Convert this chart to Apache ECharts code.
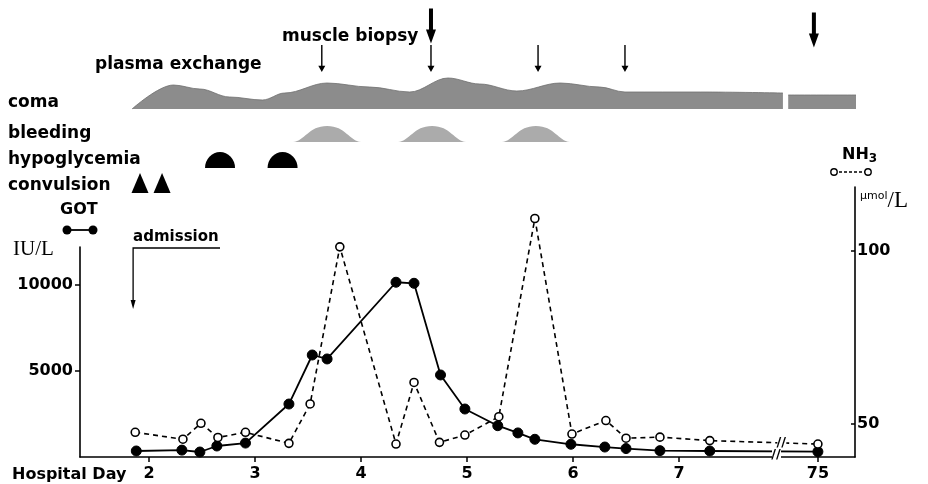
<!DOCTYPE html>
<html>
<head>
<meta charset="utf-8">
<script src="https://cdn.jsdelivr.net/npm/echarts@6/dist/echarts.min.js"></script>
<style>
html,body{margin:0;padding:0;background:#fff;}
#chart{width:928px;height:484px;}
</style>
</head>
<body>
<div id="chart"></div>
<script>
// ---------------- DATA ----------------
const dayTicks = [2, 3, 4, 5, 6, 7, 75];

const gotDays   = [1.88, 2.31, 2.48, 2.64, 2.91, 3.32, 3.54, 3.68, 4.33, 4.50, 4.75, 4.98, 5.29, 5.48, 5.64, 5.98, 6.30, 6.50, 6.82, 7.29, 75];
const gotValues = [350, 400, 290, 640, 810, 3080, 5930, 5700, 10160, 10100, 4770, 2790, 1820, 1400, 1030, 740, 580, 490, 370, 350, 310];

const nh3Days   = [1.87, 2.32, 2.49, 2.65, 2.91, 3.32, 3.52, 3.80, 4.33, 4.50, 4.74, 4.98, 5.30, 5.64, 5.99, 6.31, 6.50, 6.82, 7.29, 75];
const nh3Values = [47.6, 45.6, 50.2, 46.1, 47.6, 44.4, 55.8, 101.2, 44.2, 62.0, 44.7, 46.8, 52.1, 109.4, 47.1, 51.0, 45.9, 46.2, 45.2, 44.2];

const gotTickLabels = [5000, 10000];
const nh3TickLabels = [50, 100];

// coma depth profile (axis position, relative depth); null = break
const comaPos   = [1.84, 2.23, 2.48, 2.76, 3.07, 3.28, 3.68, 4.08, 4.46, 4.82, 5.12, 5.47, 5.88, 6.25, 6.49, 7.20, 7.98, 7.99, 8.03, 8.69];
const comaLevel = [0, 24, 20, 12, 9, 16, 26, 22, 17, 31, 25, 18, 26, 22, 17, 17, 16, null, 14, 14];

const bleedingDays      = [3.68, 4.67, 5.65];
const hypoglycemiaDays  = [2.67, 3.26];
const convulsionDays    = [1.915, 2.123];
const plasmaExchangeDays = [3.63, 4.66, 5.67, 6.49];
const muscleBiopsyDays   = [4.66, 75];
const admissionDay = 1.85;

// ---------------- LAYOUT HELPERS ----------------
const X_MIN = 1.349, X_MAX = 8.66, DAY75_POS = 8.31, BREAK_POS = 7.915;
function pos(d) { return d >= 75 ? DAY75_POS : d; }

const SANS = '"DejaVu Sans", sans-serif';
const SERIF = '"Liberation Serif", "DejaVu Serif", serif';

const bellPath  = 'path://M0,16 C7,15 9,0 20,0 C31,0 33,15 40,16 Z';
const domePath  = 'path://M0,16 A15,16 0 0 1 30,16 Z';
const thinArrow = 'path://M4,0 L6,0 L6,23 L10,23 L5,30 L0,23 L4,23 Z';
const bigArrow  = 'path://M3,0 L7,0 L7,21 L10,21 L5,35 L0,21 L3,21 Z';

const gridBase = { left: 80, right: 73 };
const grids = [
  Object.assign({ top: 247, bottom: 27 }, gridBase),   // 0 GOT
  Object.assign({ top: 187, bottom: 27 }, gridBase),   // 1 NH3
  Object.assign({ top: 69, height: 40 }, gridBase),    // 2 coma
  Object.assign({ top: 121, height: 78 }, gridBase),   // 3 event rows
  Object.assign({ top: 9.75, height: 65 }, gridBase)   // 4 arrows
];

const tickPos = dayTicks.map(pos);
const xAxes = grids.map((g, i) => ({
  gridIndex: i, type: 'value', min: X_MIN, max: X_MAX, show: i === 0,
  axisLine: { show: true, onZero: false, lineStyle: { color: '#000', width: 1.6 } },
  axisTick: { show: true, customValues: tickPos, length: 5, lineStyle: { color: '#000', width: 1.5 } },
  axisLabel: {
    customValues: tickPos, margin: 9, color: '#000', fontFamily: SANS, fontWeight: 'bold', fontSize: 16,
    formatter: v => { const k = tickPos.findIndex(t => Math.abs(t - v) < 1e-6); return k >= 0 ? String(dayTicks[k]) : ''; }
  },
  splitLine: { show: false }
}));

const yAxes = [
  { gridIndex: 0, type: 'value', min: 0, max: 12209, position: 'left',
    axisLine: { show: true, lineStyle: { color: '#000', width: 1.6 } },
    axisTick: { show: true, customValues: gotTickLabels, length: 5, lineStyle: { color: '#000', width: 1.5 } },
    axisLabel: { customValues: gotTickLabels, margin: 7, color: '#000', fontFamily: SANS, fontWeight: 'bold', fontSize: 16,
      formatter: v => String(Math.round(v)) },
    splitLine: { show: false } },
  { gridIndex: 1, type: 'value', min: 40.46, max: 118.5, position: 'right',
    axisLine: { show: true, lineStyle: { color: '#000', width: 1.6 } },
    axisTick: { show: true, inside: true, customValues: nh3TickLabels, length: 4, lineStyle: { color: '#000', width: 1.5 } },
    axisLabel: { customValues: nh3TickLabels, margin: 2, color: '#000', fontFamily: SANS, fontWeight: 'bold', fontSize: 16,
      formatter: v => String(Math.round(v)) },
    splitLine: { show: false } },
  { gridIndex: 2, type: 'value', min: 0, max: 40, show: false },
  { gridIndex: 3, type: 'category', data: ['bleeding', 'hypoglycemia', 'convulsion'], inverse: true, show: false },
  { gridIndex: 4, type: 'category', data: ['muscle biopsy', 'plasma exchange'], inverse: true, show: false }
];

const series = [
  { name: 'coma', type: 'line', xAxisIndex: 2, yAxisIndex: 2, symbol: 'none', smooth: 0.35, smoothMonotone: 'x',
    connectNulls: false, clip: false,
    data: comaPos.map((p, i) => [p, comaLevel[i] == null ? '-' : comaLevel[i]]),
    lineStyle: { color: '#6e6e6e', width: 0.8 },
    areaStyle: { color: '#8c8c8c', opacity: 1, origin: 'start' } },
  { name: 'bleeding', type: 'scatter', xAxisIndex: 3, yAxisIndex: 3, symbol: bellPath, symbolSize: [68, 16],
    itemStyle: { color: '#ababab', opacity: 1 },
    data: bleedingDays.map(d => [pos(d), 'bleeding']) },
  { name: 'hypoglycemia', type: 'scatter', xAxisIndex: 3, yAxisIndex: 3, symbol: domePath, symbolSize: [30, 16],
    itemStyle: { color: '#000', opacity: 1 },
    data: hypoglycemiaDays.map(d => [pos(d), 'hypoglycemia']) },
  { name: 'convulsion', type: 'scatter', xAxisIndex: 3, yAxisIndex: 3, symbol: 'triangle', symbolSize: [17, 20],
    symbolOffset: [0, -3], itemStyle: { color: '#000', opacity: 1 },
    data: convulsionDays.map(d => [pos(d), 'convulsion']) },
  { name: 'plasma exchange', type: 'scatter', xAxisIndex: 4, yAxisIndex: 4, symbol: thinArrow, symbolSize: [7, 27],
    itemStyle: { color: '#000', opacity: 1 },
    data: plasmaExchangeDays.map(d => [pos(d), 'plasma exchange']) },
  { name: 'muscle biopsy', type: 'scatter', xAxisIndex: 4, yAxisIndex: 4, symbol: bigArrow, symbolSize: [10, 35],
    itemStyle: { color: '#000', opacity: 1 },
    data: muscleBiopsyDays.map((d, i) => ({ value: [pos(d), 'muscle biopsy'], symbolOffset: [i === 1 ? -4 : 0, i === 1 ? 4 : 0] })) },
  { name: 'GOT', type: 'line', xAxisIndex: 0, yAxisIndex: 0, symbol: 'circle', symbolSize: 10,
    lineStyle: { color: '#000', width: 1.8 }, itemStyle: { color: '#000', borderColor: '#000' },
    data: gotDays.map((d, i) => [pos(d), gotValues[i]]), z: 3 },
  { name: 'NH3', type: 'line', xAxisIndex: 1, yAxisIndex: 1, symbol: 'circle', symbolSize: 8, showAllSymbol: true,
    lineStyle: { color: '#000', width: 1.6, type: [5, 4] },
    itemStyle: { color: '#fff', borderColor: '#000', borderWidth: 1.6 },
    data: nh3Days.map((d, i) => [pos(d), nh3Values[i]]), z: 4 }
];

const chart = echarts.init(document.getElementById('chart'), null, { renderer: 'canvas' });
chart.setOption({
  animation: false,
  backgroundColor: '#fff',
  grid: grids,
  xAxis: xAxes,
  yAxis: yAxes,
  series: series
});

// ---------------- ANNOTATIONS ----------------
function txt(x, y, s, size, extra) {
  return Object.assign({ type: 'text', x: x, y: y, z: 50,
    style: Object.assign({ text: s, fill: '#000', font: 'bold ' + size + 'px ' + SANS, textVerticalAlign: 'middle', textAlign: 'left' }, extra || {}) });
}
const g = [];
g.push(txt(8, 103, 'coma', 17));
g.push(txt(8, 134, 'bleeding', 17));
g.push(txt(8, 160, 'hypoglycemia', 17));
g.push(txt(8, 186, 'convulsion', 17));
g.push(txt(95, 65, 'plasma exchange', 17));
g.push(txt(282, 37, 'muscle biopsy', 17));
g.push(txt(60, 210, 'GOT', 16));
g.push(txt(12, 475, 'Hospital Day', 16));
g.push(txt(13, 249, 'IU/L', 21, { font: '21px ' + SERIF }));

// GOT legend key
g.push({ type: 'line', z: 50, shape: { x1: 67, y1: 230, x2: 93, y2: 230 }, style: { stroke: '#000', lineWidth: 1.8 } });
g.push({ type: 'circle', z: 51, shape: { cx: 67, cy: 230, r: 4.5 }, style: { fill: '#000' } });
g.push({ type: 'circle', z: 51, shape: { cx: 93, cy: 230, r: 4.5 }, style: { fill: '#000' } });

// NH3 legend key and unit
g.push({ type: 'text', x: 842, y: 155, z: 50, style: {
  text: '{a|NH}{b|3}', textVerticalAlign: 'middle',
  rich: { a: { fontFamily: SANS, fontWeight: 'bold', fontSize: 16, fill: '#000', color: '#000' },
          b: { fontFamily: SANS, fontWeight: 'bold', fontSize: 12, fill: '#000', color: '#000', padding: [8, 0, 0, 0] } } } });
g.push({ type: 'line', z: 50, shape: { x1: 834, y1: 172, x2: 868, y2: 172 }, style: { stroke: '#000', lineWidth: 1.3, lineDash: [3, 2] } });
g.push({ type: 'circle', z: 51, shape: { cx: 834, cy: 172, r: 3.2 }, style: { fill: '#fff', stroke: '#000', lineWidth: 1.4 } });
g.push({ type: 'circle', z: 51, shape: { cx: 868, cy: 172, r: 3.2 }, style: { fill: '#fff', stroke: '#000', lineWidth: 1.4 } });
g.push({ type: 'text', x: 860, y: 201, z: 50, style: {
  text: '{a|μmol}{b|/L}', textVerticalAlign: 'middle',
  rich: { a: { fontFamily: SANS, fontSize: 11, fill: '#000', color: '#000', padding: [0, 0, 10, 0] },
          b: { fontFamily: SERIF, fontSize: 23, fill: '#000', color: '#000' } } } });

// admission marker
const adm = chart.convertToPixel({ gridIndex: 0 }, [admissionDay, 0]);
g.push(txt(adm[0], 237, 'admission', 15));
g.push({ type: 'polyline', z: 50, shape: { points: [[220, 248], [adm[0], 248], [adm[0], 301]] }, style: { stroke: '#000', lineWidth: 1.3, fill: null } });
g.push({ type: 'polygon', z: 50, shape: { points: [[adm[0] - 2.5, 300], [adm[0] + 2.5, 300], [adm[0], 309]] }, style: { fill: '#000' } });

// axis break marks
const bAxis = chart.convertToPixel({ gridIndex: 0 }, [BREAK_POS, 0]);
g.push({ type: 'rect', z: 60, shape: { x: bAxis[0] - 4, y: bAxis[1] - 8, width: 9, height: 12 }, style: { fill: '#fff' } });
g.push({ type: 'text', x: bAxis[0], y: bAxis[1] - 2, z: 61, style: { text: '//', font: 'bold 13px ' + SANS, fill: '#000', textAlign: 'center', textVerticalAlign: 'middle' } });
const bNh3 = chart.convertToPixel({ gridIndex: 1 }, [BREAK_POS + 0.05, 44.7]);
g.push({ type: 'rect', z: 60, shape: { x: bNh3[0] - 4, y: bNh3[1] - 6, width: 9, height: 12 }, style: { fill: '#fff' } });
g.push({ type: 'text', x: bNh3[0], y: bNh3[1], z: 61, style: { text: '//', font: 'bold 13px ' + SANS, fill: '#000', textAlign: 'center', textVerticalAlign: 'middle' } });

chart.setOption({ graphic: g });
</script>
</body>
</html>
